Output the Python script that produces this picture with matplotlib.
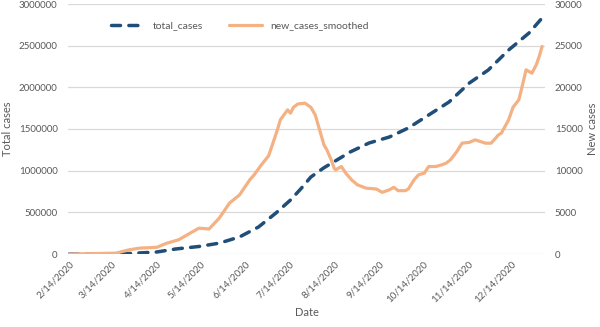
import numpy as np
import pandas as pd
import matplotlib
matplotlib.use('Agg')
import matplotlib.pyplot as plt

plt.rcParams['font.family'] = ['Lato', 'DejaVu Sans']

# total_cases (left axis)
total_dates = ['2020-02-14', '2020-03-14', '2020-03-23', '2020-04-14', '2020-04-27',
               '2020-05-13', '2020-05-27', '2020-06-10', '2020-06-23', '2020-07-05',
               '2020-07-15', '2020-07-22', '2020-07-29', '2020-08-07', '2020-08-18',
               '2020-08-25', '2020-09-07', '2020-09-21', '2020-10-04', '2020-10-18',
               '2020-11-01', '2020-11-15', '2020-11-28', '2020-12-12', '2020-12-26',
               '2021-01-04']
total_cases = [0, 0, 3000, 24000, 60000,
               90000, 130000, 205000, 324000, 492000,
               648000, 780000, 924000, 1035000, 1150000,
               1224000, 1332000, 1404000, 1512000, 1668000,
               1824000, 2052000, 2208000, 2448000, 2652000,
               2832000]

# new_cases_smoothed (right axis)
new_dates = ['2020-02-14', '2020-03-17', '2020-03-26', '2020-04-02', '2020-04-14',
             '2020-04-21', '2020-04-29', '2020-05-08', '2020-05-13', '2020-05-20',
             '2020-05-27', '2020-06-03', '2020-06-10', '2020-06-17', '2020-06-20',
             '2020-06-25', '2020-06-30', '2020-07-06', '2020-07-08', '2020-07-13',
             '2020-07-15', '2020-07-17', '2020-07-20', '2020-07-25', '2020-07-29',
             '2020-08-01', '2020-08-04', '2020-08-07', '2020-08-09', '2020-08-12',
             '2020-08-14', '2020-08-15', '2020-08-19', '2020-08-22', '2020-08-26',
             '2020-08-30', '2020-09-05', '2020-09-12', '2020-09-16', '2020-09-21',
             '2020-09-24', '2020-09-27', '2020-10-02', '2020-10-04', '2020-10-08',
             '2020-10-11', '2020-10-15', '2020-10-18', '2020-10-23', '2020-10-27',
             '2020-10-30', '2020-11-02', '2020-11-06', '2020-11-10', '2020-11-15',
             '2020-11-19', '2020-11-26', '2020-11-30', '2020-12-05', '2020-12-07',
             '2020-12-12', '2020-12-15', '2020-12-19', '2020-12-21', '2020-12-24',
             '2020-12-28', '2020-12-31', '2021-01-02', '2021-01-04']
new_cases = [0, 100, 500, 700, 800,
             1300, 1700, 2600, 3100, 3000,
             4300, 6100, 7100, 8900, 9500,
             10700, 11800, 14900, 16100, 17300,
             16900, 17600, 18000, 18100, 17600,
             16700, 14900, 13100, 12500, 11300,
             10300, 10100, 10500, 9700, 8900,
             8300, 7900, 7800, 7400, 7700,
             8000, 7600, 7600, 7800, 8900,
             9500, 9700, 10500, 10500, 10700,
             10900, 11300, 12200, 13300, 13400,
             13700, 13300, 13300, 14300, 14500,
             16100, 17600, 18500, 19900, 22100,
             21700, 22700, 23700, 24900]

tick_dates = ['2020-02-14', '2020-03-14', '2020-04-14', '2020-05-14', '2020-06-14',
              '2020-07-14', '2020-08-14', '2020-09-14', '2020-10-14', '2020-11-14',
              '2020-12-14']
tick_labels = ['2/14/2020', '3/14/2020', '4/14/2020', '5/14/2020', '6/14/2020',
               '7/14/2020', '8/14/2020', '9/14/2020', '10/14/2020', '11/14/2020',
               '12/14/2020']

text_col = '#595959'
fig = plt.figure(figsize=(6, 3.27), dpi=100)
ax = fig.add_axes([68 / 600, (327 - 254) / 327, 477 / 600, 250 / 327])
ax2 = ax.twinx()

ax.plot(pd.to_datetime(total_dates), total_cases, color='#1F4E79', linewidth=2.5,
        dashes=(2.6, 2.4), dash_capstyle='round', label='total_cases', zorder=2)
ax2.plot(pd.to_datetime(new_dates), new_cases, color='#F4B183', linewidth=2.3,
         solid_capstyle='round', label='new_cases_smoothed', zorder=3)

# dashed line sits under the orange one
ax.set_zorder(1)
ax2.set_zorder(2)
ax.patch.set_visible(False)

ax.set_xlim(pd.Timestamp('2020-02-13'), pd.Timestamp('2021-01-06'))
ax.set_ylim(0, 3000000)
ax2.set_ylim(0, 30000)
ax.set_yticks(np.arange(0, 3000001, 500000))
ax2.set_yticks(np.arange(0, 30001, 5000))
ax.yaxis.set_major_formatter(matplotlib.ticker.FuncFormatter(lambda v, p: '%d' % v))
ax2.yaxis.set_major_formatter(matplotlib.ticker.FuncFormatter(lambda v, p: '%d' % v))
ax.set_xticks(pd.to_datetime(tick_dates))
ax.set_xticklabels(tick_labels, rotation=45, ha='right', rotation_mode='anchor')

ax.grid(axis='y', color='#D9D9D9', linewidth=0.9)
ax.set_axisbelow(True)
for a in (ax, ax2):
    for s in a.spines.values():
        s.set_visible(False)
    a.tick_params(length=0, labelsize=7, colors=text_col)
ax.tick_params(axis='y', pad=7.5)
ax2.tick_params(axis='y', pad=7)
ax.tick_params(axis='x', pad=4)

ax.set_ylabel('Total cases', fontsize=8, color=text_col)
ax2.set_ylabel('New cases', fontsize=8, color=text_col, rotation=90)
ax.yaxis.set_label_coords(-0.116, 0.5)
ax2.yaxis.set_label_coords(1.089, 0.5)
ax.set_xlabel('Date', fontsize=8, color=text_col, labelpad=2)

h1, l1 = ax.get_legend_handles_labels()
h2, l2 = ax2.get_legend_handles_labels()
ax2.legend(h1 + h2, l1 + l2, loc='upper left', bbox_to_anchor=(0.07, 0.97), ncol=2,
           frameon=False, fontsize=7.5, labelcolor=text_col, handlelength=3.2,
           columnspacing=2.5, handletextpad=0.8)

fig.savefig('out.png', dpi=100)
